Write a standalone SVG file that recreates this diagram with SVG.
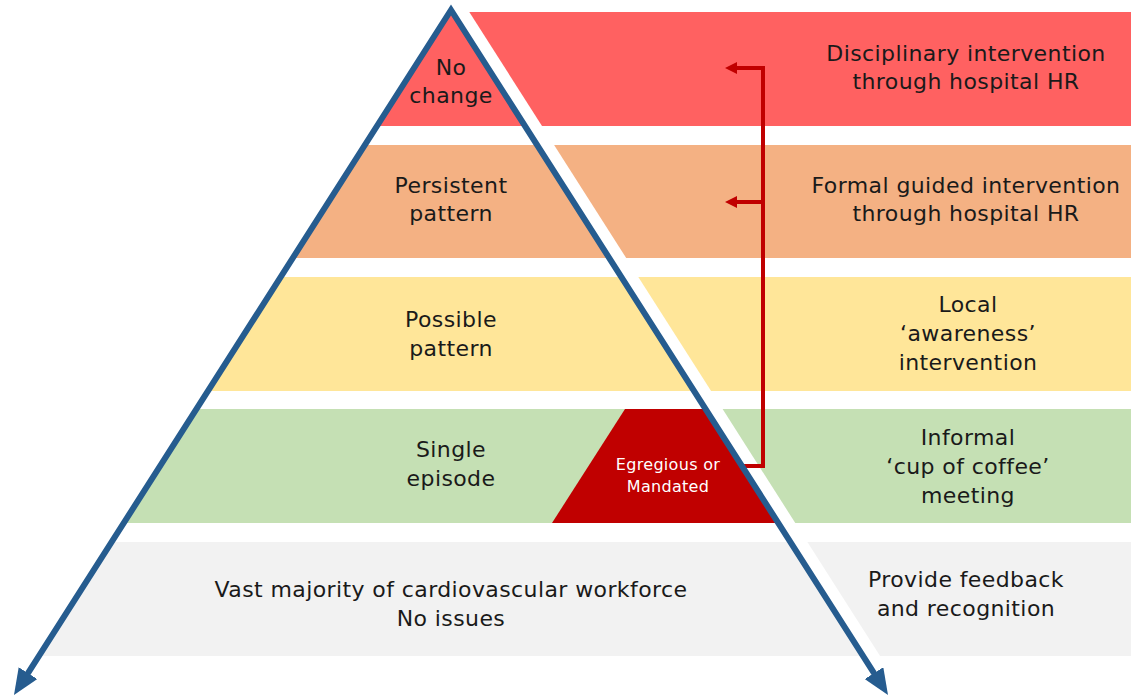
<svg xmlns="http://www.w3.org/2000/svg" width="1131" height="697" viewBox="0 0 1131 697">
<defs>
<style>
.t{font-family:"DejaVu Sans","Liberation Sans",sans-serif;font-size:22px;letter-spacing:0.4px;fill:#1a1a1a;text-anchor:middle}
.w{font-family:"DejaVu Sans","Liberation Sans",sans-serif;font-size:16px;letter-spacing:0.3px;fill:#ffffff;text-anchor:middle}
.red{fill:#FF6161}.org{fill:#F4B183}.yel{fill:#FFE699}.grn{fill:#C5E0B4}.gry{fill:#F2F2F2}.dred{fill:#C00000}
.conn{fill:none;stroke:#C00000;stroke-width:4}
</style>
<marker id="blueHead" markerUnits="userSpaceOnUse" markerWidth="26" markerHeight="22" viewBox="0 0 26 22" refX="2" refY="11" orient="auto-start-reverse">
<path d="M0,0 L26,11 L0,22 z" fill="#265C8F"/>
</marker>
<marker id="redHead" markerUnits="userSpaceOnUse" markerWidth="12" markerHeight="12" viewBox="0 0 12 12" refX="1" refY="6" orient="auto">
<path d="M0,0 L12,6 L0,12 z" fill="#C00000"/>
</marker>
</defs>
<rect width="1131" height="697" fill="#ffffff"/>

<g id="tier-no-change">
<polygon class="red" points="451,10 525,126 377,126"/>
<polygon class="red" points="469.3,12 1131,12 1131,126 542,126"/>
<text class="t" x="451" y="75">No</text>
<text class="t" x="451" y="103">change</text>
<text class="t" x="966" y="61">Disciplinary intervention</text>
<text class="t" x="966" y="89">through hospital HR</text>
</g>

<g id="tier-persistent">
<polygon class="org" points="364.9,145 537.1,145 609.2,258 292.8,258"/>
<polygon class="org" points="554.1,145 1131,145 1131,258 626.2,258"/>
<text class="t" x="451" y="193">Persistent</text>
<text class="t" x="451" y="221">pattern</text>
<text class="t" x="966" y="193">Formal guided intervention</text>
<text class="t" x="966" y="221">through hospital HR</text>
</g>

<g id="tier-possible">
<polygon class="yel" points="280.7,277 621.3,277 694.1,391 207.9,391"/>
<polygon class="yel" points="638.3,277 1131,277 1131,391 711.1,391"/>
<text class="t" x="451" y="327">Possible</text>
<text class="t" x="451" y="356">pattern</text>
<text class="t" x="968" y="312">Local</text>
<text class="t" x="968" y="341">‘awareness’</text>
<text class="t" x="968" y="370">intervention</text>
</g>

<g id="tier-single">
<polygon class="grn" points="196.4,409 705.6,409 778.3,523 123.7,523"/>
<polygon class="grn" points="722.6,409 1131,409 1131,523 795.3,523"/>
<text class="t" x="451" y="457">Single</text>
<text class="t" x="451" y="486">episode</text>
<text class="t" x="968" y="445">Informal</text>
<text class="t" x="968" y="474">‘cup of coffee’</text>
<text class="t" x="968" y="503">meeting</text>
</g>

<g id="egregious">
<polygon class="dred" points="625,409 705.6,409 778.3,523 552,523"/>
<text class="w" x="668" y="470">Egregious or</text>
<text class="w" x="668" y="492">Mandated</text>
</g>

<g id="tier-no-issues">
<polygon class="gry" points="111.6,542 790.4,542 863.1,656 38.9,656"/>
<polygon class="gry" points="807.4,542 1131,542 1131,656 880.1,656"/>
<text class="t" x="451" y="597">Vast majority of cardiovascular workforce</text>
<text class="t" x="451" y="626">No issues</text>
<text class="t" x="966" y="587">Provide feedback</text>
<text class="t" x="966" y="616">and recognition</text>
</g>

<g id="connectors">
<path class="conn" d="M742,466 H763 V68 H736" marker-end="url(#redHead)"/>
<path class="conn" d="M763,202 H736" marker-end="url(#redHead)"/>
<path id="pyramid-axes" d="M26.9,674.8 L451,10 L875.1,674.8" fill="none" stroke="#265C8F" stroke-width="6" stroke-linejoin="miter" stroke-miterlimit="10" marker-start="url(#blueHead)" marker-end="url(#blueHead)"/>
</g>
</svg>
